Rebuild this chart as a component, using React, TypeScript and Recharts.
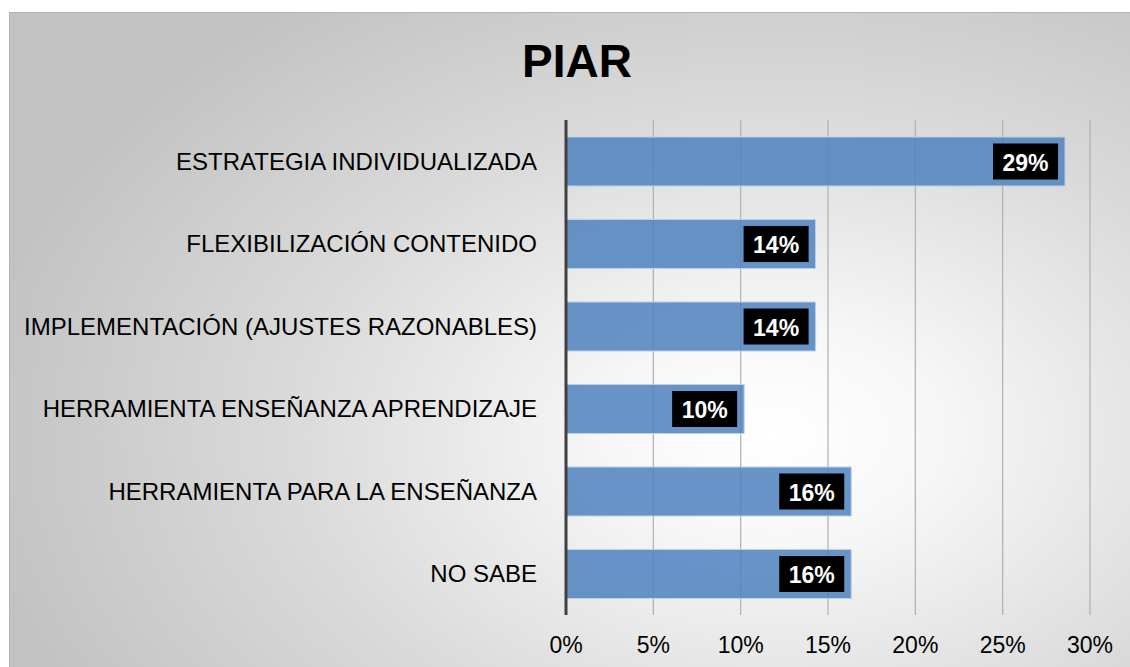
import { BarChart, Bar, XAxis, YAxis, CartesianGrid, LabelList } from "recharts";

const categories = [
  "ESTRATEGIA INDIVIDUALIZADA",
  "FLEXIBILIZACIÓN CONTENIDO",
  "IMPLEMENTACIÓN (AJUSTES RAZONABLES)",
  "HERRAMIENTA ENSEÑANZA APRENDIZAJE",
  "HERRAMIENTA PARA LA ENSEÑANZA",
  "NO SABE",
];
const shares = [0.2857, 0.1429, 0.1429, 0.102, 0.1633, 0.1633];
const xTicks = [0, 0.05, 0.1, 0.15, 0.2, 0.25, 0.3];

const data = categories.map((name, i) => ({ name, value: shares[i] }));

const font = "'Liberation Sans', Arial, sans-serif";
const pct = (v: number) => `${Math.round(v * 100)}%`;

function ValueBox(props: any) {
  const { x, y, width, height, value } = props;
  const right = Number(x) + Number(width) - 7;
  const cy = Number(y) + Number(height) / 2;
  return (
    <g>
      <rect x={right - 65} y={cy - 18} width={65} height={36} fill="#000" />
      <text
        x={right - 32.5}
        y={cy + 1}
        fill="#fff"
        fontSize={23}
        fontWeight="bold"
        fontFamily={font}
        textAnchor="middle"
        dominantBaseline="central"
      >
        {pct(Number(value))}
      </text>
    </g>
  );
}

export default function App() {
  return (
    <>
      <style>{`body{margin:0;overflow:hidden}`}</style>
      <div
        style={{
          position: "absolute",
          left: 9,
          top: 12,
          width: 1125,
          height: 660,
          boxSizing: "border-box",
          border: "1px solid #b4b4b4",
          background:
            "radial-gradient(ellipse 72% 82% at 68% 64%, #ffffff 0%, #f7f7f7 20%, #dadada 60%, #c2c2c2 100%)",
        }}
      >
        <div
          style={{
            position: "absolute",
            left: 467,
            top: 25,
            width: 200,
            textAlign: "center",
            fontFamily: font,
            fontWeight: "bold",
            fontSize: 46,
            lineHeight: "46px",
            color: "#000",
          }}
        >
          PIAR
        </div>
        <div style={{ position: "absolute", left: 0, top: 0 }}>
          <BarChart
            width={1123}
            height={658}
            data={data}
            layout="vertical"
            margin={{ top: 107, right: 43, bottom: 16, left: 0 }}
          >
            <CartesianGrid horizontal={false} stroke="#b0b0b0" strokeWidth={1.2} />
            <XAxis
              type="number"
              domain={[0, 0.3]}
              ticks={xTicks}
              tickFormatter={pct}
              axisLine={false}
              tickLine={false}
              tickSize={0}
              tickMargin={22}
              height={40}
              tick={{ fontSize: 23, fill: "#000", fontFamily: font }}
            />
            <YAxis
              type="category"
              dataKey="name"
              width={556}
              axisLine={{ stroke: "#404040", strokeWidth: 3 }}
              tickLine={false}
              tickSize={0}
              tickMargin={29}
              tick={{ fontSize: 24, fill: "#000", fontFamily: font }}
            />
            <Bar
              dataKey="value"
              fill="#4F81BD"
              fillOpacity={0.85}
              stroke="#bcd0e8"
              strokeWidth={1}
              barSize={49}
              isAnimationActive={false}
            >
              <LabelList dataKey="value" content={ValueBox} />
            </Bar>
          </BarChart>
        </div>
      </div>
    </>
  );
}
